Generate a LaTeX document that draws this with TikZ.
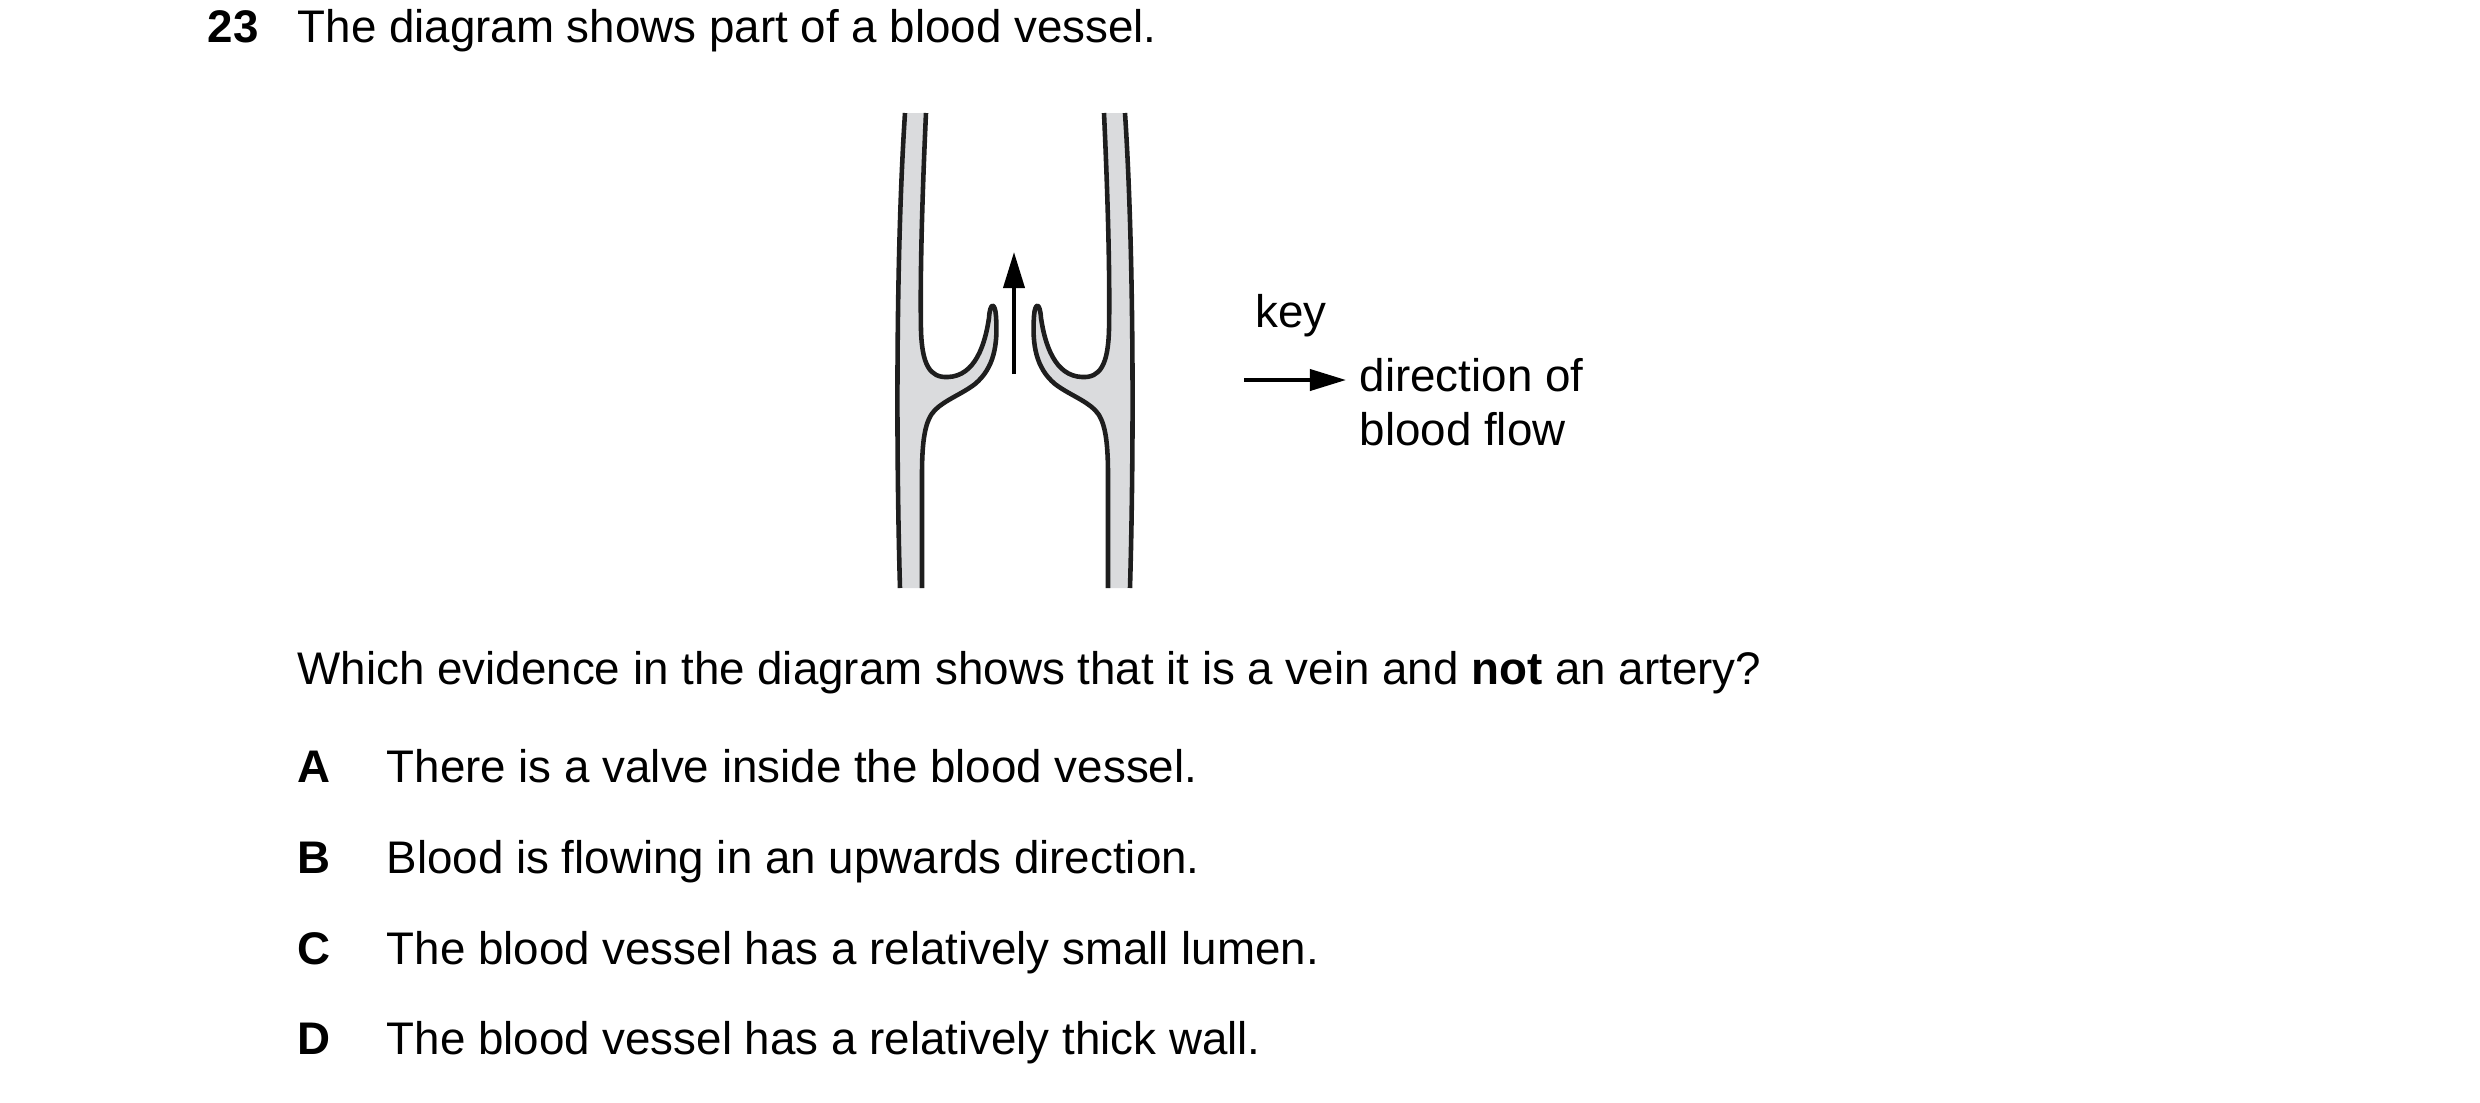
\documentclass[tikz,border=0pt]{standalone}
\usepackage{fontspec}
\setmainfont{Liberation Sans}
\usetikzlibrary{arrows.meta}
\begin{document}
\begin{tikzpicture}[x=0.01cm,y=-0.01cm,
  txt/.style={anchor=base west,inner sep=0pt,font=\fontsize{13}{15}\selectfont},
  wall/.style={line width=1.3pt,line join=round,color={rgb,255:red,30;green,30;blue,30}},
  flow/.style={line width=1.1pt,-{Triangle[length=0.36cm,width=0.21cm]}}]
\useasboundingbox (0,0) rectangle (2480,1102);
\def\inner{(926,113) .. controls (922,200) and (920,280) .. (921,330)
  .. controls (922,365) and (930,378) .. (948,377)
  .. controls (975,376) and (985,345) .. (989,318)
  .. controls (990,302) and (995,302) .. (996,316)
  .. controls (998,345) and (994,368) .. (975,384)
  .. controls (962,394) and (945,400) .. (935,410)
  .. controls (925,420) and (922,440) .. (922,475)
  -- (922,588)}
\foreach \s/\sh in {1/0,-1/2030}{
\begin{scope}[shift={(\sh,0)},xscale=\s]
  \fill[fill={rgb,255:red,218;green,219;blue,221}] (905,113) -- \inner -- (900,588)
    .. controls (896,450) and (896,250) .. (905,113) -- cycle;
  \draw[wall] \inner;
  \draw[wall] (905,113) .. controls (896,250) and (896,450) .. (900,588);
\end{scope}}
\coordinate (fa) at (1014,374); \coordinate (fb) at (1014,252);
\draw[flow] (fa) -- (fb);
\coordinate (ka) at (1244,380); \coordinate (kb) at (1346,380);
\draw[flow] (ka) -- (kb);
\node[txt] (n) at (207,42) {\textbf{23}};
\node[txt] (t) at (297,42) {The diagram shows part of a blood vessel.};
\node[txt] (key) at (1255,327) {key};
\node[txt] (d1) at (1359,391) {direction of};
\node[txt] (d2) at (1359,445) {blood flow};
\node[txt] (q) at (297,684) {Which evidence in the diagram shows that it is a vein and \textbf{not} an artery?};
\foreach \l/\yy/\tt in {A/782/There is a valve inside the blood vessel.,
  B/873/Blood is flowing in an upwards direction.,
  C/964/The blood vessel has a relatively small lumen.,
  D/1054/The blood vessel has a relatively thick wall.}{
  \node[txt] (l\l) at (297,\yy) {\textbf{\l}};
  \node[txt] (o\l) at (386,\yy) {\tt};
}
\end{tikzpicture}
\end{document}
